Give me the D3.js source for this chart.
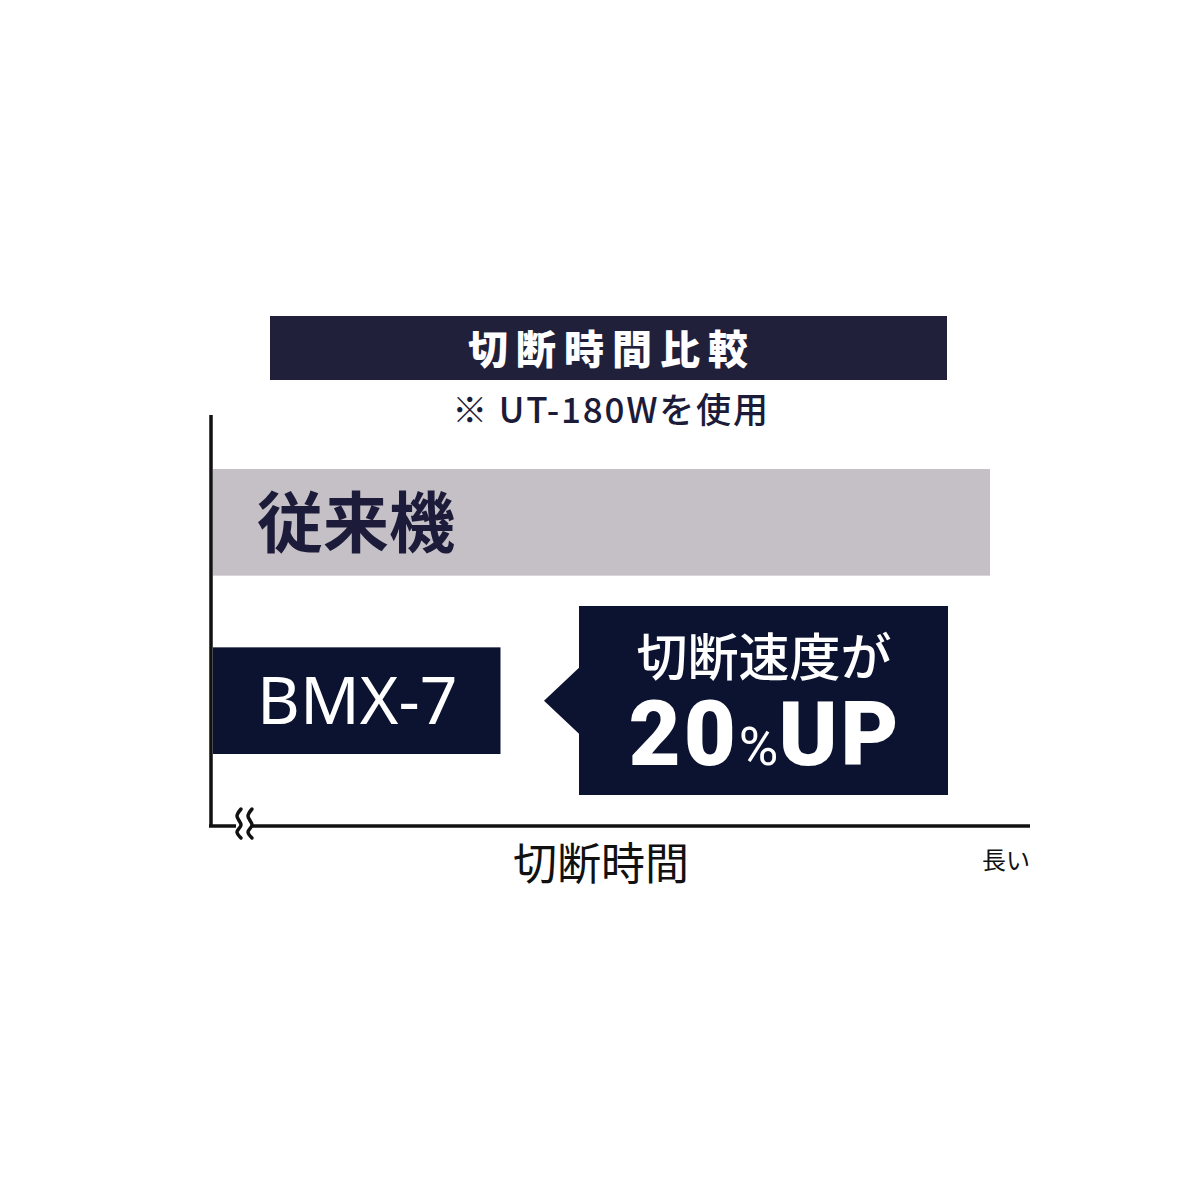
<!DOCTYPE html>
<html>
<head>
<meta charset="utf-8">
<script src="https://cdn.jsdelivr.net/npm/d3@7.9.0/dist/d3.min.js"></script>
<style>
  html, body { margin: 0; padding: 0; background: #fff; }
  svg { display: block; }
  text { font-family: "Noto Sans CJK JP", "Noto Sans", sans-serif; }
</style>
</head>
<body>
<svg id="chart" width="1200" height="1200"></svg>
<script>
// data: relative cutting time (conventional = 100)
const categories = ['従来機', 'BMX-7'];
const cutTimes = [100, 37];
const barColors = ['#c5bfc6', '#0c1330'];
const labelColors = ['#1c1c3a', '#ffffff'];

const titleText = '切断時間比較';
const noteText = '※ UT-180Wを使用';
const xLabel = '切断時間';
const xEndLabel = '長い';
const calloutLines = ['切断速度が', '20', '%', 'UP'];

const svg = d3.select('#chart');

const x = d3.scaleLinear().domain([0, 100]).range([213, 990]);
const y = d3.scaleBand().domain(categories).range([469, 754]).paddingInner(0.402).paddingOuter(0);

// title bar
svg.append('rect')
  .attr('x', 270).attr('y', 316).attr('width', 677).attr('height', 64)
  .attr('fill', '#21203b');
svg.append('text')
  .attr('x', 612).attr('y', 364)
  .attr('text-anchor', 'middle')
  .attr('fill', '#fff')
  .attr('font-size', 40).attr('font-weight', 900)
  .attr('letter-spacing', 8)
  .text(titleText);
svg.append('text')
  .attr('x', 611).attr('y', 423)
  .attr('text-anchor', 'middle')
  .attr('fill', '#1c1c3a')
  .attr('font-size', 35).attr('font-weight', 500)
  .attr('letter-spacing', 1.8)
  .text(noteText);

// bars
svg.selectAll('.bar')
  .data(categories)
  .join('rect')
  .attr('class', 'bar')
  .attr('x', x(0))
  .attr('y', (d) => y(d))
  .attr('width', (d, i) => x(cutTimes[i]) - x(0))
  .attr('height', y.bandwidth())
  .attr('fill', (d, i) => barColors[i]);

svg.selectAll('.bar-label')
  .data(categories)
  .join('text')
  .attr('class', 'bar-label')
  .attr('x', 257)
  .attr('y', (d) => y(d) + y.bandwidth() / 2)
  .attr('dy', (d, i) => (i === 0 ? '0.38em' : '0.36em'))
  .attr('fill', (d, i) => labelColors[i])
  .attr('font-size', 66)
  .attr('font-weight', (d, i) => (i === 0 ? 700 : 400))
  .style('font-family', (d, i) => (i === 0 ? '"Noto Sans CJK JP"' : '"Noto Sans", sans-serif'))
  .text((d) => d);

// callout box with arrow pointing at the BMX-7 bar
const cb = { x: 579, y: 606, w: 369, h: 189 };
const tipY = y('BMX-7') + y.bandwidth() / 2;
svg.append('path')
  .attr('d', d3.line()([
    [cb.x, cb.y], [cb.x + cb.w, cb.y], [cb.x + cb.w, cb.y + cb.h], [cb.x, cb.y + cb.h],
    [cb.x, tipY + 33], [544, tipY], [cb.x, tipY - 33]
  ]) + 'Z')
  .attr('fill', '#0c1330');

svg.append('text')
  .attr('x', 764).attr('y', 676)
  .attr('text-anchor', 'middle')
  .attr('fill', '#fff')
  .attr('font-size', 51).attr('font-weight', 500)
  .text(calloutLines[0]);

const big = svg.append('text')
  .attr('x', 765).attr('y', 765)
  .attr('text-anchor', 'middle')
  .attr('fill', '#fff')
  .attr('font-weight', 900)
  .style('font-family', 'Roboto, "Noto Sans", sans-serif');
big.append('tspan').attr('font-size', 90).attr('letter-spacing', 3).text(calloutLines[1]);
big.append('tspan').attr('font-size', 54).attr('font-weight', 400).text(calloutLines[2]);
big.append('tspan').attr('font-size', 89).attr('letter-spacing', 3).text(calloutLines[3]);

// axes
svg.append('line')
  .attr('x1', 211).attr('y1', 415).attr('x2', 211).attr('y2', 827)
  .attr('stroke', '#111').attr('stroke-width', 3.5);
svg.append('line')
  .attr('x1', 209).attr('y1', 826).attr('x2', 1030).attr('y2', 826)
  .attr('stroke', '#111').attr('stroke-width', 3.5);

// axis break mark
const wave = d3.line().curve(d3.curveCatmullRom);
svg.append('rect').attr('x', 236).attr('y', 822).attr('width', 16).attr('height', 8).attr('fill', '#fff');
[236, 247].forEach((bx) => {
  svg.append('path')
    .attr('d', wave([[bx + 5, 809], [bx + 1, 816], [bx + 5, 825], [bx + 1, 832], [bx + 5, 838]]))
    .attr('fill', 'none')
    .attr('stroke', '#111')
    .attr('stroke-width', 3.5)
    .attr('stroke-linecap', 'round');
});

svg.append('text')
  .attr('x', 601).attr('y', 880)
  .attr('text-anchor', 'middle')
  .attr('fill', '#111')
  .attr('font-size', 44)
  .text(xLabel);
svg.append('text')
  .attr('x', 1006).attr('y', 869)
  .attr('text-anchor', 'middle')
  .attr('fill', '#111')
  .attr('font-size', 24)
  .text(xEndLabel);
</script>
</body>
</html>
